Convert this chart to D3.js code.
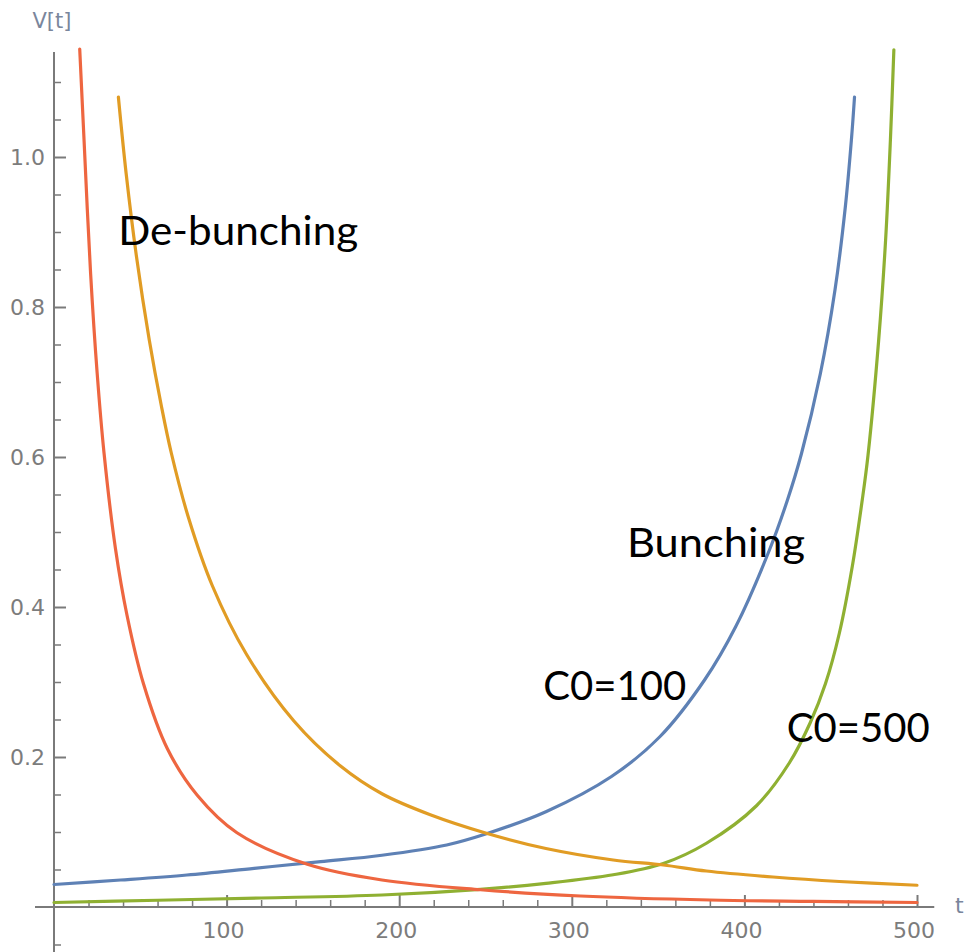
<!DOCTYPE html>
<html>
<head>
<meta charset="utf-8">
<script src="https://cdn.jsdelivr.net/npm/d3@7"></script>
<style>
  html, body { margin: 0; padding: 0; background: #fff; }
  svg { display: block; }
</style>
</head>
<body>
<svg id="chart" width="969" height="952"></svg>
<script>
// V[t] curves: [t, V] samples
const bunchC0_100 = [
  [0, 0.030], [38.6, 0.036], [77, 0.0427], [116, 0.0516], [154.5, 0.0604],
  [190, 0.069], [227.5, 0.0827], [251, 0.098], [285, 0.127], [323, 0.174],
  [351, 0.227], [377, 0.303], [395, 0.374], [414.5, 0.476], [425, 0.543],
  [433, 0.604], [444, 0.711], [452.5, 0.823], [458.5, 0.934], [462, 1.023],
  [463.8, 1.08]
];
const bunchC0_500 = [
  [0, 0.006], [60, 0.009], [120, 0.012], [190, 0.016], [247, 0.0236],
  [285, 0.0316], [324, 0.043], [353, 0.058], [378, 0.085], [407, 0.135],
  [426, 0.192], [438, 0.245], [447, 0.298], [455, 0.365], [462.5, 0.454],
  [468.3, 0.543], [471.6, 0.602], [477.8, 0.756], [481.8, 0.889], [484.6, 1.023],
  [486.6, 1.143]
];
const debunchRed = [
  [14.9, 1.144], [17.4, 1.023], [21.2, 0.845], [25, 0.712], [29, 0.605],
  [35.6, 0.478], [42.3, 0.389], [51.8, 0.298], [65.7, 0.211], [83, 0.149],
  [106, 0.099], [146.8, 0.057], [190, 0.036], [247, 0.023], [305, 0.0147],
  [380, 0.0093], [440, 0.0075], [500, 0.006]
];
const debunchOrange = [
  [37.3, 1.08], [41.8, 0.978], [47.8, 0.867], [55.2, 0.756], [62.3, 0.667],
  [68.0, 0.605], [77.8, 0.52], [91.8, 0.428], [111.5, 0.337], [139, 0.248],
  [166, 0.188], [190, 0.151], [218, 0.123], [251, 0.098], [285, 0.078],
  [324, 0.0627], [353, 0.056], [378, 0.048], [416.6, 0.04], [455, 0.034],
  [500, 0.029]
];

const seriesList = [
  { name: "C0=100", values: bunchC0_100, color: "#5E81B5" },
  { name: "C0=500", values: bunchC0_500, color: "#8FB032" },
  { name: "De-bunching fast", values: debunchRed, color: "#EE6640" },
  { name: "De-bunching slow", values: debunchOrange, color: "#E19C24" }
];

const xMajorTicks = [100, 200, 300, 400, 500];
const yMajorTicks = [0.2, 0.4, 0.6, 0.8, 1.0];

const annotations = [
  { text: "De-bunching", t: 37.2, v: 0.883, width: 240 },
  { text: "Bunching", t: 332, v: 0.467, width: 178 },
  { text: "C0=100", t: 283.5, v: 0.276, width: 143 },
  { text: "C0=500", t: 424.5, v: 0.220, width: 143 }
];

const svg = d3.select("#chart");

const x = d3.scaleLinear().domain([0, 500]).range([54, 917]);
const y = d3.scaleLinear().domain([0, 1]).range([907, 157]);

const axisColor = "#7a7a7a";
const labelColor = "#7c7c7c";

// x axis line, ticks pointing up into the plot
const xMinor = d3.range(20, 501, 20).filter(d => d % 100 !== 0);
svg.append("line")
  .attr("x1", x(-11)).attr("x2", x(510))
  .attr("y1", y(0)).attr("y2", y(0))
  .attr("stroke", axisColor).attr("stroke-width", 2);

const xAxis = d3.axisTop(x).tickValues(xMajorTicks).tickSize(12).tickFormat("");
svg.append("g").attr("transform", `translate(0,${y(0)})`).call(xAxis)
  .call(g => g.select(".domain").remove())
  .call(g => g.selectAll("line").attr("stroke", axisColor).attr("stroke-width", 2));
const xAxisMinor = d3.axisTop(x).tickValues(xMinor).tickSize(7).tickFormat("");
svg.append("g").attr("transform", `translate(0,${y(0)})`).call(xAxisMinor)
  .call(g => g.select(".domain").remove())
  .call(g => g.selectAll("line").attr("stroke", axisColor).attr("stroke-width", 1.5));

svg.append("g").selectAll("text").data(xMajorTicks).join("text")
  .attr("x", d => x(d) - 3).attr("y", y(0) + 31)
  .attr("text-anchor", "middle")
  .attr("font-family", "DejaVu Sans, sans-serif").attr("font-size", 22)
  .attr("fill", labelColor)
  .text(d => d3.format("d")(d));

// y axis line, ticks pointing right into the plot
const yMinor = d3.range(-1, 23).map(i => i * 0.05).filter(d => Math.abs(d * 5 - Math.round(d * 5)) > 1e-6);
svg.append("line")
  .attr("x1", x(0)).attr("x2", x(0))
  .attr("y1", y(1.14)).attr("y2", y(-0.06))
  .attr("stroke", axisColor).attr("stroke-width", 2);

const yAxis = d3.axisRight(y).tickValues(yMajorTicks).tickSize(12).tickFormat("");
svg.append("g").attr("transform", `translate(${x(0)},0)`).call(yAxis)
  .call(g => g.select(".domain").remove())
  .call(g => g.selectAll("line").attr("stroke", axisColor).attr("stroke-width", 2));
const yAxisMinor = d3.axisRight(y).tickValues(yMinor).tickSize(7).tickFormat("");
svg.append("g").attr("transform", `translate(${x(0)},0)`).call(yAxisMinor)
  .call(g => g.select(".domain").remove())
  .call(g => g.selectAll("line").attr("stroke", axisColor).attr("stroke-width", 1.5));

svg.append("g").selectAll("text").data(yMajorTicks).join("text")
  .attr("x", x(0) - 9).attr("y", d => y(d))
  .attr("dy", "0.36em")
  .attr("text-anchor", "end")
  .attr("font-family", "DejaVu Sans, sans-serif").attr("font-size", 22)
  .attr("fill", labelColor)
  .text(d => d3.format(".1f")(d));

// axis titles
svg.append("text")
  .attr("x", 52).attr("y", 28)
  .attr("text-anchor", "middle")
  .attr("font-family", "DejaVu Sans, sans-serif").attr("font-size", 21)
  .attr("fill", "#7a869c")
  .text("V[t]");
svg.append("text")
  .attr("x", 955).attr("y", 913)
  .attr("font-family", "DejaVu Sans, sans-serif").attr("font-size", 22)
  .attr("fill", "#7a869c")
  .text("t");

// curves
const line = d3.line()
  .x(d => x(d[0]))
  .y(d => y(d[1]))
  .curve(d3.curveCatmullRom.alpha(0.5));

svg.append("g").selectAll("path").data(seriesList).join("path")
  .attr("d", d => line(d.values))
  .attr("fill", "none")
  .attr("stroke", d => d.color)
  .attr("stroke-width", 3.2)
  .attr("stroke-linecap", "round");

// annotations
svg.append("g").selectAll("text").data(annotations).join("text")
  .attr("x", d => x(d.t)).attr("y", d => y(d.v))
  .attr("font-family", "Lato, 'Open Sans', sans-serif").attr("font-size", 40)
  .attr("textLength", d => d.width)
  .attr("lengthAdjust", "spacingAndGlyphs")
  .attr("fill", "#000")
  .text(d => d.text);
</script>
</body>
</html>
